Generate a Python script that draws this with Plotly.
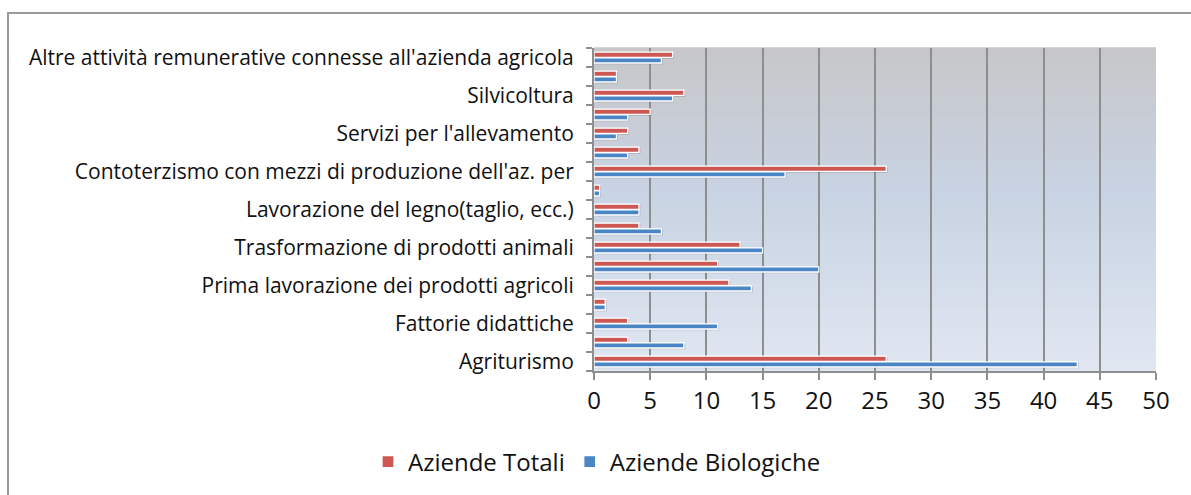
import plotly.graph_objects as go

# Activity categories, listed bottom to top
categories = [
    "Agriturismo",
    "Attività ricreative e sociali",
    "Fattorie didattiche",
    "Artigianato",
    "Prima lavorazione dei prodotti agricoli",
    "Trasformazione di prodotti vegetali",
    "Trasformazione di prodotti animali",
    "Produzione di energia rinnovabile",
    "Lavorazione del legno(taglio, ecc.)",
    "Acquacoltura",
    "Contoterzismo con mezzi di produzione dell'az. per",
    "Contoterzismo per attività non agricole",
    "Servizi per l'allevamento",
    "Sistemazione di parchi e giardini",
    "Silvicoltura",
    "Produzione di mangimi completi e complementari",
    "Altre attività remunerative connesse all'azienda agricola",
]
aziende_totali = [26, 3, 3, 1, 12, 11, 13, 4, 4, 0.5, 26, 4, 3, 5, 8, 2, 7]
aziende_biologiche = [43, 8, 11, 1, 14, 20, 15, 6, 4, 0.5, 17, 3, 2, 3, 7, 2, 6]
x_ticks = [0, 5, 10, 15, 20, 25, 30, 35, 40, 45, 50]

RED = "#CD5752"
BLUE = "#4A86C6"
GRID = "#8E8E8E"
FONT = "Open Sans"

idx = list(range(len(categories)))
bar_w = 0.27

fig = go.Figure()

# soft drop shadows under each bar
for vals, off in ((aziende_totali, 0.01), (aziende_biologiche, -0.29)):
    fig.add_trace(go.Bar(
        y=idx, x=vals, base=0.12, orientation="h",
        offset=off - 0.07, width=bar_w + 0.02,
        marker=dict(color="rgba(60,60,60,0.24)", line=dict(width=0)),
        showlegend=False, hoverinfo="skip",
    ))

fig.add_trace(go.Bar(
    y=idx, x=aziende_biologiche, orientation="h", name="Aziende Biologiche",
    offset=-0.29, width=bar_w,
    marker=dict(color=BLUE, line=dict(color="white", width=1.3)),
    customdata=categories, hovertemplate="%{customdata}: %{x}<extra></extra>",
))
fig.add_trace(go.Bar(
    y=idx, x=aziende_totali, orientation="h", name="Aziende Totali",
    offset=0.01, width=bar_w,
    marker=dict(color=RED, line=dict(color="white", width=1.3)),
    customdata=categories, hovertemplate="%{customdata}: %{x}<extra></extra>",
))

# vertical gradient behind the plotting area
stops = [(0.0, (224, 231, 241)), (0.55, (200, 211, 227)), (1.0, (199, 199, 201))]


def grad(t):
    for (t0, c0), (t1, c1) in zip(stops[:-1], stops[1:]):
        if t0 <= t <= t1:
            f = (t - t0) / (t1 - t0)
            return "rgb(%d,%d,%d)" % tuple(round(a + (b - a) * f) for a, b in zip(c0, c1))
    return "rgb(%d,%d,%d)" % stops[-1][1]


shapes = []
n = 60
for i in range(n):
    y0, y1 = i / n, (i + 1) / n
    shapes.append(dict(
        type="rect", xref="x domain", yref="y domain", x0=0, x1=1, y0=y0, y1=y1 + 0.002,
        fillcolor=grad((y0 + y1) / 2), line=dict(width=0), layer="below",
    ))

# outer chart frame (runs past the right and bottom edges of the page)
shapes.append(dict(
    type="rect", xref="paper", yref="paper",
    x0=(8 - 594) / 562, x1=(1200 - 594) / 562,
    y0=(372 - 510) / 324, y1=1 + (48 - 13) / 324,
    line=dict(color="#9A9A9A", width=2), fillcolor="rgba(0,0,0,0)", layer="above",
))

fig.update_layout(
    width=1191, height=495,
    margin=dict(l=594, r=35, t=48, b=123),
    paper_bgcolor="white", plot_bgcolor="white",
    barmode="overlay",
    font=dict(family=FONT, color="#111111"),
    shapes=shapes,
    showlegend=True,
    legend=dict(
        orientation="h", traceorder="reversed",
        x=(597 - 594) / 562, xanchor="center",
        y=(372 - 462) / 324, yanchor="middle",
        font=dict(size=24, family=FONT), bgcolor="rgba(0,0,0,0)",
        itemwidth=30,
    ),
    xaxis=dict(
        range=[0, 50], tickmode="array", tickvals=x_ticks,
        showgrid=True, gridcolor=GRID, gridwidth=2,
        zeroline=False, showline=True, linecolor=GRID, linewidth=2,
        ticks="outside", ticklen=7, tickwidth=2, tickcolor=GRID,
        tickfont=dict(size=24, family=FONT, color="#111111"),
        fixedrange=True,
    ),
    yaxis=dict(
        range=[-0.5, len(categories) - 0.5],
        tickmode="array", tickvals=idx[::2], ticktext=categories[::2],
        ticks="", showgrid=False, zeroline=False,
        showline=True, linecolor=GRID, linewidth=2,
        tickfont=dict(size=21, family=FONT, color="#111111"),
        ticklabelstandoff=14,
        minor=dict(
            tickmode="array",
            tickvals=[i - 0.5 for i in range(len(categories) + 1)],
            ticks="outside", ticklen=6, tickwidth=2, tickcolor=GRID, showgrid=False,
        ),
        fixedrange=True,
    ),
)

fig.write_html("out.html")
